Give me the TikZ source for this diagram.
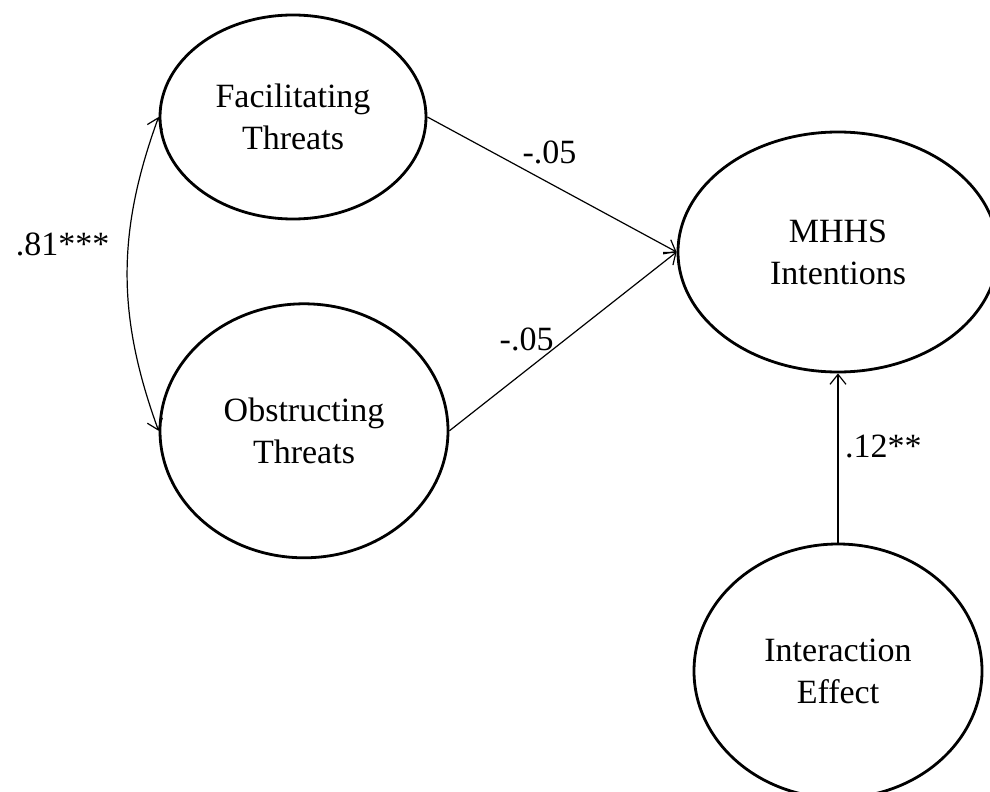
\documentclass[tikz,border=0pt]{standalone}
\usepackage{fontspec}
\setmainfont{Liberation Serif}
\usetikzlibrary{arrows.meta,shapes,positioning}

\begin{document}
\begin{tikzpicture}[x=0.5pt, y=-0.5pt]
% STYLES
\tikzset{
    ellips/.style={ellipse, draw, line width=1.4pt,
    align=center, inner sep=2pt, font=\fontsize{17}{21}\selectfont},
    coef/.style={font=\fontsize{17}{21}\selectfont, inner sep=0.33em},
    link/.style={->, >={Straight Barb[length=5pt,width=8pt]}, line width=0.6pt}
}
\useasboundingbox (0,0) rectangle (990,792);
\node [ellips, minimum width=133pt, minimum height=102pt] (Facilitating) at (293,117) {Facilitating\\Threats};
\node [ellips, minimum width=144pt, minimum height=127pt, below=41pt of Facilitating, xshift=5.5pt] (Obstructing) {Obstructing\\Threats};
\node [ellips, minimum width=160pt, minimum height=120pt] (MHHS) at (838,252) {MHHS\\Intentions};
\node [ellips, minimum width=144pt, minimum height=127pt, below=84.6pt of MHHS] (Interaction) {Interaction\\Effect};

% Draw the links between 
\path[link]
   (Facilitating.east) edge node[coef, above=6pt, pos=0.49] (FacMHHS) {-.05} (MHHS.west)
   (Obstructing.east) edge node[coef, above=6pt, pos=0.34] (ObsMHHS) {-.05} (MHHS.west)
   (Interaction.north) edge node[coef, right, pos=0.57] (IntMHHS) {.12**} (MHHS.south);
\draw[link, <->] (Facilitating.west) to[bend right=20] node[coef, left=6pt, pos=0.4] (FacObs) {.81***} (Obstructing.west);
\end{tikzpicture}
\end{document}
